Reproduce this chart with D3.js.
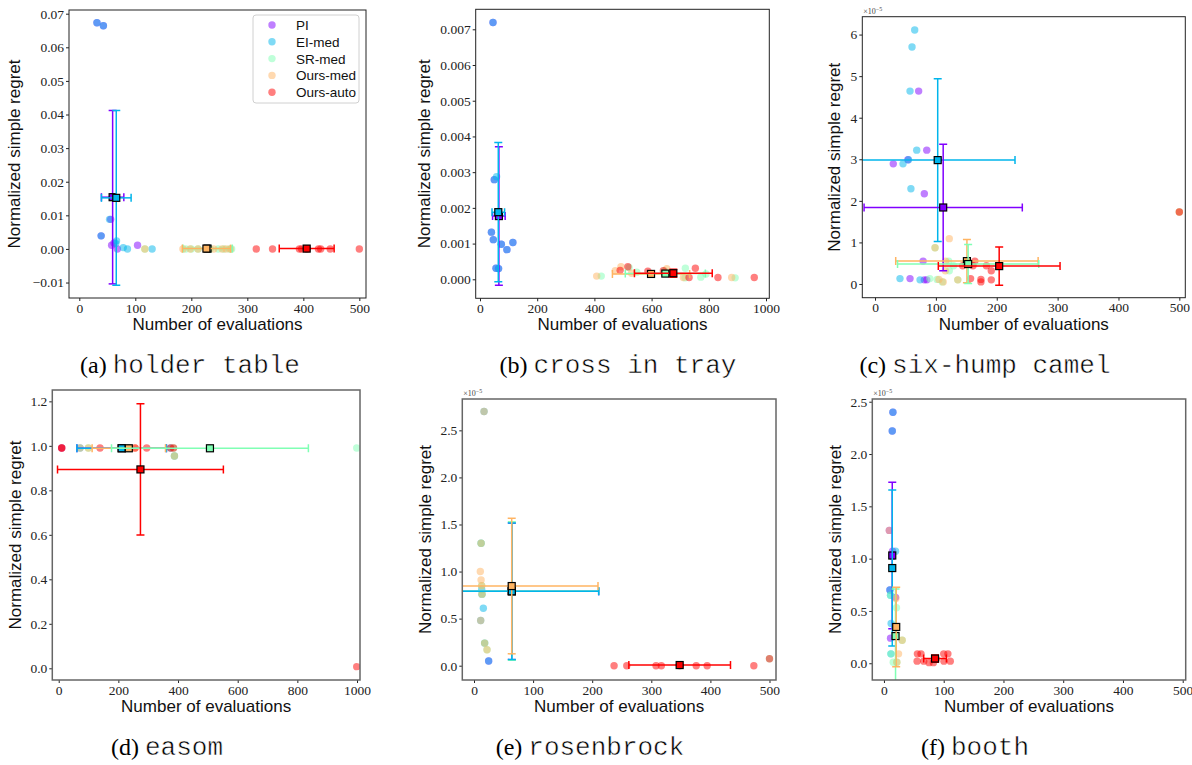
<!DOCTYPE html>
<html>
<head>
<meta charset="utf-8">
<script src="https://cdn.jsdelivr.net/npm/d3@7"></script>
<style>
  body { margin: 0; background: #fff; }
</style>
</head>
<body>
<svg id="fig" width="1192" height="765"></svg>
<script>
//Methods and their colours (matplotlib "rainbow" sampled at 5 points)
const methods = ["PI", "EI-med", "SR-med", "Ours-med", "Ours-auto"];
const methodColors = ["#8000ff", "#00b5eb", "#80ffb4", "#ffb462", "#ff0000"];

//Each point is [method index, number of evaluations, normalized simple regret]
//Each stat is [method index, mean evals, mean regret, evals error, regret error]

//(a) holder table
const holderPoints = [
  [0, 31.5, 0.0673], [0, 43, 0.0664], [0, 56, 0.0088], [0, 39, 0.0039], [0, 57.7, 0.0011], [0, 68, 0.0], [0, 104, 0.0011], [0, 62, 0.0018],
  [1, 31.5, 0.0673], [1, 43, 0.0664], [1, 54, 0.0088], [1, 39, 0.0039], [1, 66.5, 0.0024], [1, 65, 0.0016], [1, 78.5, 0.0004], [1, 86, 0.0], [1, 130, 0.0],
  [2, 117, 0.0], [2, 190, 0.0], [2, 200, 0.0], [2, 212, 0.0], [2, 234, 0.0], [2, 248, 0.0], [2, 258, 0.0], [2, 268, 0.0], [2, 272, 0.0],
  [3, 117, 0.0], [3, 185, 0.0], [3, 198, 0.0], [3, 212, 0.0], [3, 227, 0.0], [3, 240, 0.0], [3, 255, 0.0], [3, 262, 0.0], [3, 270, 0.0],
  [4, 316, 0.0], [4, 345, 0.0], [4, 393, 0.0], [4, 397, 0.0], [4, 406, 0.0], [4, 427, 0.0], [4, 431, 0.0], [4, 448, 0.0], [4, 500, 0.0]
];
const holderStats = [
  [0, 59.5, 0.0154, 20, 0.0258],
  [1, 66, 0.0152, 26.5, 0.026],
  [2, 229, 0.0001, 44, 0.0001],
  [3, 227, 0.0001, 43, 0.0001],
  [4, 406, 0.0001, 49, 0.0001]
];

//(b) cross in tray
const crossPoints = [
  [0, 45.5, 0.00719], [0, 50, 0.00279], [0, 40, 0.00132], [0, 46.6, 0.00111], [0, 74.6, 0.00098], [0, 115, 0.00103], [0, 94, 0.00083], [0, 56, 0.00031], [0, 65, 0.0003],
  [1, 45.5, 0.00719], [1, 58, 0.00287], [1, 50, 0.00279], [1, 40, 0.00132], [1, 46.6, 0.00111], [1, 74.6, 0.00098], [1, 115, 0.00103], [1, 94, 0.00083], [1, 56, 0.00031], [1, 65, 0.0003],
  [2, 424, 0.00009], [2, 521, 0.00033], [2, 548, 0.0002], [2, 645, 0.00024], [2, 718, 0.00031], [2, 717, 0.00004], [2, 772, 0.00006], [2, 790, 0.00015], [2, 892, 0.00004],
  [3, 408, 0.00009], [3, 473, 0.00024], [3, 493, 0.00035], [3, 530, 0.00017], [3, 598, 0.00015], [3, 653, 0.0003], [3, 711, 0.00005], [3, 880, 0.00005],
  [4, 490, 0.00025], [4, 517, 0.00035], [4, 587, 0.00023], [4, 641, 0.00024], [4, 664, 0.00015], [4, 731, 0.00005], [4, 753, 0.00031], [4, 832, 0.00005], [4, 959, 0.00005]
];
const crossStats = [
  [0, 66, 0.00177, 22, 0.00194],
  [1, 64, 0.00188, 22, 0.00195],
  [3, 598, 0.00015, 135, 0.00005],
  [2, 648, 0.00016, 140, 0.00005],
  [4, 676, 0.00017, 136, 0.00011]
];

//(c) six-hump camel
const camelPoints = [
  [0, 71.7, 4.64e-5], [0, 85, 3.22e-5], [0, 30, 2.89e-5], [0, 54, 2.99e-5], [0, 81, 2.17e-5], [0, 79, 0.55e-5], [0, 57.5, 0.13e-5], [0, 81, 0.10e-5], [0, 85, 0.10e-5],
  [1, 65.2, 6.11e-5], [1, 60.8, 5.70e-5], [1, 57.5, 4.64e-5], [1, 68.5, 3.22e-5], [1, 55, 2.99e-5], [1, 46, 2.89e-5], [1, 59, 2.29e-5], [1, 41, 0.13e-5], [1, 74, 0.10e-5],
  [2, 121, 0.55e-5], [2, 122, 0.32e-5], [2, 129, 0.44e-5], [2, 90, 0.13e-5], [2, 102, 0.11e-5], [2, 110.6, 0.05e-5], [2, 136, 0.10e-5], [2, 98.6, 0.87e-5], [2, 500, 1.73e-5],
  [3, 122, 1.09e-5], [3, 98.6, 0.87e-5], [3, 116, 0.55e-5], [3, 115.6, 0.32e-5], [3, 105, 0.11e-5], [3, 136, 0.10e-5], [3, 112, 0.05e-5], [3, 500, 1.73e-5],
  [4, 144, 0.44e-5], [4, 164, 0.55e-5], [4, 161, 0.44e-5], [4, 183, 0.44e-5], [4, 191, 0.32e-5], [4, 157, 0.13e-5], [4, 174, 0.11e-5], [4, 174, 0.05e-5], [4, 191, 0.10e-5], [4, 500, 1.73e-5]
];
const camelStats = [
  [1, 103, 2.98e-5, 127, 1.96e-5],
  [0, 112, 1.84e-5, 130, 1.52e-5],
  [3, 151, 0.55e-5, 117, 0.52e-5],
  [2, 153, 0.48e-5, 116, 0.47e-5],
  [4, 204, 0.43e-5, 100, 0.46e-5]
];

//(d) easom
const easomPoints = [
  [0, 10, 0.99], [0, 211, 0.99],
  [1, 71.5, 0.99], [1, 211, 0.99], [1, 375, 0.99], [1, 388, 0.954],
  [2, 99.4, 0.99], [2, 233.5, 0.99], [2, 385, 0.99], [2, 999, 0.99], [2, 388, 0.954],
  [3, 71.5, 0.99], [3, 99.4, 0.99], [3, 233.5, 0.99], [3, 256, 0.99], [3, 388, 0.954],
  [4, 10, 0.99], [4, 10, 0.99], [4, 138.5, 0.99], [4, 256, 0.99], [4, 295, 0.99], [4, 375, 0.99], [4, 385, 0.99], [4, 999, 0.0075]
];
const easomStats = [
  [0, 211, 0.989, 150, 0.001],
  [1, 211, 0.989, 150, 0.001],
  [3, 235, 0.989, 123, 0.001],
  [2, 507, 0.989, 330, 0.001],
  [4, 274, 0.894, 278, 0.295]
];

//(e) rosenbrock
const rosenPoints = [
  [0, 24.8, 0.05e-5],
  [1, 17, 2.70e-5], [1, 12, 1.30e-5], [1, 13, 0.81e-5], [1, 15.8, 0.61e-5], [1, 11.3, 0.48e-5], [1, 18, 0.24e-5], [1, 24.8, 0.05e-5], [1, 13.5, 0.76e-5],
  [2, 12, 1.30e-5], [2, 13.5, 0.76e-5], [2, 18, 0.24e-5], [2, 22, 0.17e-5], [2, 13, 0.85e-5], [2, 500, 0.074e-5],
  [3, 17, 2.70e-5], [3, 12, 1.30e-5], [3, 10.7, 1.0e-5], [3, 12, 0.91e-5], [3, 13, 0.85e-5], [3, 13.5, 0.76e-5], [3, 11.3, 0.48e-5], [3, 18, 0.24e-5], [3, 22, 0.17e-5],
  [4, 237, 0.0], [4, 258.5, 0.0], [4, 308, 0.0], [4, 317, 0.0], [4, 348, 0.0], [4, 376, 0.0], [4, 394.5, 0.0], [4, 473.5, 0.0], [4, 500, 0.074e-5]
];
const rosenStats = [
  [0, 64, 0.79e-5, 147, 0.725e-5],
  [2, 64, 0.793e-5, 147, 0.735e-5],
  [1, 64, 0.79e-5, 147, 0.725e-5],
  [3, 63.8, 0.846e-5, 146, 0.72e-5],
  [4, 348, 0.007e-5, 86, 0.005e-5]
];

//(f) booth
const boothPoints = [
  [0, 15, 2.40e-5], [0, 13.9, 2.22e-5], [0, 9, 1.27e-5], [0, 14.4, 1.07e-5], [0, 10, 0.70e-5], [0, 19.4, 0.63e-5], [0, 11, 0.24e-5],
  [1, 15, 2.40e-5], [1, 13.9, 2.22e-5], [1, 19.4, 1.07e-5], [1, 10, 0.70e-5], [1, 11, 0.65e-5], [1, 12, 0.38e-5], [1, 11.7, 0.09e-5],
  [2, 21, 0.53e-5], [2, 11.7, 0.09e-5], [2, 15.5, 0.01e-5], [2, 21.6, 0.01e-5], [2, 30.5, 0.22e-5], [2, 11, 0.65e-5],
  [3, 30.5, 0.22e-5], [3, 24.4, 0.09e-5], [3, 21.6, 0.01e-5], [3, 9, 1.27e-5], [3, 20, 0.62e-5],
  [4, 56, 0.09e-5], [4, 62, 0.09e-5], [4, 55.5, 0.02e-5], [4, 66.6, 0.02e-5], [4, 75.5, 0.006e-5], [4, 82.7, 0.006e-5], [4, 87.7, 0.04e-5], [4, 100, 0.09e-5], [4, 107, 0.09e-5], [4, 100.4, 0.02e-5], [4, 111, 0.02e-5]
];
const boothStats = [
  [0, 13.9, 1.03e-5, 3, 0.70e-5],
  [1, 13.9, 0.91e-5, 3, 0.745e-5],
  [2, 19.4, 0.26e-5, 3, 0.45e-5],
  [3, 20.5, 0.347e-5, 3, 0.38e-5],
  [4, 85.5, 0.045e-5, 19, 0.035e-5]
];

//Tick labels
const xTicks500 = [0, 100, 200, 300, 400, 500];
const xTicks1000 = [0, 200, 400, 600, 800, 1000];
const holderYTicks = [-0.01, 0, 0.01, 0.02, 0.03, 0.04, 0.05, 0.06, 0.07];
const crossYTicks = [0, 0.001, 0.002, 0.003, 0.004, 0.005, 0.006, 0.007];
const camelYTicks = [0, 1e-5, 2e-5, 3e-5, 4e-5, 5e-5, 6e-5];
const easomYTicks = [0, 0.2, 0.4, 0.6, 0.8, 1.0, 1.2];
const smallYTicks = [0, 0.5e-5, 1.0e-5, 1.5e-5, 2.0e-5, 2.5e-5];

//Panel names
const captionLetters = ["(a)", "(b)", "(c)", "(d)", "(e)", "(f)"];
const captionNames = ["holder table", "cross in tray", "six-hump camel", "easom", "rosenbrock", "booth"];

//Layout of each panel (box in pixels, axis ranges, y label offset)
const panels = [
  { points: holderPoints, stats: holderStats, box: [69, 10, 366, 298], xd: [-18.4, 511.9], yd: [-0.0146, 0.0711],
    xt: xTicks500, yt: holderYTicks, fmt: d3.format(".2f"), legend: true, cap: [190, 373], frame: "#222", yl: 49 },
  { points: crossPoints, stats: crossStats, box: [475.7, 9.3, 769.3, 298.3], xd: [-15, 1011.5], yd: [-0.000532, 0.00756],
    xt: xTicks1000, yt: crossYTicks, fmt: d3.format(".3f"), cap: [618, 373], frame: "#222", yl: 46 },
  { points: camelPoints, stats: camelStats, box: [862.3, 16.7, 1185.3, 297.7], xd: [-20.9, 509.8], yd: [-0.33e-5, 6.43e-5],
    xt: xTicks500, yt: camelYTicks, fmt: v => d3.format(".0f")(v * 1e5), mult: true, cap: [985, 373], frame: "#222", yl: 22 },
  { points: easomPoints, stats: easomStats, box: [52.3, 390, 360, 680], xd: [-21.5, 1010], yd: [-0.0526, 1.251],
    xt: xTicks1000, yt: easomYTicks, fmt: d3.format(".1f"), cap: [167, 755], frame: "#666", yl: 31 },
  { points: rosenPoints, stats: rosenStats, box: [462.3, 399, 776, 680], xd: [-19.8, 511], yd: [-0.152e-5, 2.833e-5],
    xt: xTicks500, yt: smallYTicks, fmt: v => d3.format(".1f")(v * 1e5), mult: true, cap: [590, 755], frame: "#666", yl: 31 },
  { points: boothPoints, stats: boothStats, box: [872.3, 399, 1185.7, 680], xd: [-19.5, 505], yd: [-0.16e-5, 2.526e-5],
    xt: xTicks500, yt: smallYTicks, fmt: v => d3.format(".1f")(v * 1e5), mult: true, cap: [975, 755], frame: "#666", yl: 31 }
];

const svg = d3.select("#fig");
const tickFont = "'Liberation Serif', 'DejaVu Serif', serif";
const sansFont = "'Liberation Sans', Arial, sans-serif";

panels.forEach(function (p, i) {
  const [x0, y0, x1, y1] = p.box;
  const x = d3.scaleLinear().domain(p.xd).range([x0, x1]);
  const y = d3.scaleLinear().domain(p.yd).range([y1, y0]);

  //Clip marks to the axes box
  svg.append("clipPath").attr("id", "clip" + i)
    .append("rect").attr("x", x0).attr("y", y0).attr("width", x1 - x0).attr("height", y1 - y0);

  //Axes
  const xAxis = svg.append("g")
    .attr("transform", `translate(0,${y1})`)
    .call(d3.axisBottom(x).tickValues(p.xt).tickSize(3).tickPadding(2).tickFormat(d3.format("d")));
  const yAxis = svg.append("g")
    .attr("transform", `translate(${x0},0)`)
    .call(d3.axisLeft(y).tickValues(p.yt).tickSize(3).tickPadding(2).tickFormat(p.fmt));
  [xAxis, yAxis].forEach(function (ax) {
    ax.select(".domain").remove();
    ax.selectAll("text").attr("font-family", tickFont).attr("font-size", 13.5).attr("fill", "#222");
    ax.selectAll("line").attr("stroke", "#222");
  });

  //Scale multiplier above the box
  if (p.mult) {
    const m = svg.append("text")
      .attr("x", x0 + 1).attr("y", y0 - 3)
      .attr("font-family", tickFont).attr("font-size", 8).attr("fill", "#444")
      .text("×10");
    m.append("tspan").attr("dy", -3).attr("font-size", 6).text("−5");
  }

  //Scatter of the single runs
  const plot = svg.append("g").attr("clip-path", `url(#clip${i})`);
  plot.selectAll("circle")
    .data(p.points)
    .enter()
    .append("circle")
    .attr("cx", d => x(d[1]))
    .attr("cy", d => y(d[2]))
    .attr("r", 3.7)
    .attr("fill", d => methodColors[d[0]])
    .attr("fill-opacity", 0.5);

  //Error bars with caps and square markers
  p.stats.forEach(function (s) {
    const c = methodColors[s[0]];
    const cx = x(s[1]), cy = y(s[2]);
    const xl = x(s[1] - s[3]), xr = x(s[1] + s[3]);
    const yt = y(s[2] + s[4]), yb = y(s[2] - s[4]);
    const g = plot.append("g").attr("stroke", c).attr("stroke-width", 1.5);
    g.append("line").attr("x1", xl).attr("x2", xr).attr("y1", cy).attr("y2", cy);
    g.append("line").attr("x1", cx).attr("x2", cx).attr("y1", yt).attr("y2", yb);
    [xl, xr].forEach(function (xx) {
      g.append("line").attr("x1", xx).attr("x2", xx).attr("y1", cy - 4).attr("y2", cy + 4);
    });
    [yt, yb].forEach(function (yy) {
      g.append("line").attr("x1", cx - 4).attr("x2", cx + 4).attr("y1", yy).attr("y2", yy);
    });
    plot.append("rect")
      .attr("x", cx - 3.5).attr("y", cy - 3.5)
      .attr("width", 7).attr("height", 7)
      .attr("fill", c).attr("stroke", "#000").attr("stroke-width", 1.2);
  });

  //Frame
  svg.append("rect")
    .attr("x", x0).attr("y", y0).attr("width", x1 - x0).attr("height", y1 - y0)
    .attr("fill", "none").attr("stroke", p.frame).attr("stroke-width", i < 3 ? 1 : 1.5);

  //Axis titles
  svg.append("text")
    .attr("x", (x0 + x1) / 2).attr("y", y1 + 32)
    .attr("text-anchor", "middle")
    .attr("font-family", sansFont).attr("font-size", 17).attr("fill", "#111")
    .text("Number of evaluations");
  svg.append("text")
    .attr("transform", `translate(${x0 - p.yl},${(y0 + y1) / 2}) rotate(-90)`)
    .attr("text-anchor", "middle")
    .attr("font-family", sansFont).attr("font-size", 17).attr("fill", "#111")
    .text("Normalized simple regret");

  //Caption under the panel
  const cap = svg.append("text")
    .attr("x", p.cap[0]).attr("y", p.cap[1])
    .attr("text-anchor", "middle").attr("fill", "#000");
  cap.append("tspan").attr("font-family", "'Liberation Serif', serif").attr("font-size", 24).text(captionLetters[i] + " ");
  cap.append("tspan").attr("font-family", "'Liberation Mono', monospace").attr("font-size", 26)
    .attr("stroke", "#fff").attr("stroke-width", 0.5)
    .text(captionNames[i]);

  //Legend (first panel only)
  if (p.legend) {
    const lg = svg.append("g");
    lg.append("rect")
      .attr("x", 253).attr("y", 15).attr("width", 106).attr("height", 88).attr("rx", 3)
      .attr("fill", "#fff").attr("fill-opacity", 0.8).attr("stroke", "#d0d0d0");
    methods.forEach(function (m, k) {
      const ry = 25 + k * 16.8;
      lg.append("circle").attr("cx", 272).attr("cy", ry).attr("r", 3.7)
        .attr("fill", methodColors[k]).attr("fill-opacity", 0.5);
      lg.append("text").attr("x", 296).attr("y", ry + 5)
        .attr("font-family", sansFont).attr("font-size", 13.5).attr("fill", "#111")
        .text(m);
    });
  }
});
</script>
</body>
</html>
